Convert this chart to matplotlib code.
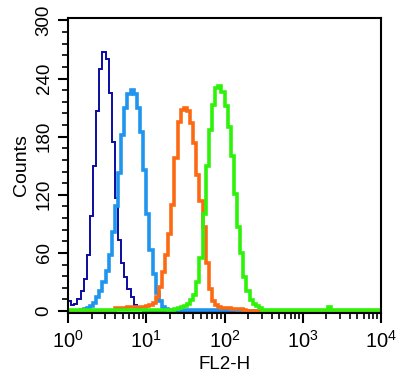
import numpy as np
import matplotlib
matplotlib.use("Agg")
import matplotlib.pyplot as plt
from matplotlib.ticker import AutoMinorLocator, LogLocator, NullFormatter

plt.rcParams['font.family'] = ['Liberation Sans', 'DejaVu Sans']
plt.rcParams['mathtext.fontset'] = 'custom'
plt.rcParams['mathtext.rm'] = 'Liberation Sans'
plt.rcParams['mathtext.it'] = 'Liberation Sans'

# 100 log-spaced channels over 4 decades, counts
n_bins = 100
edges = np.logspace(0, 4, n_bins + 1)

# (first bin, counts) for each histogram
isotype_start = 0
isotype = [10, 6, 7, 12, 21, 33, 58, 98, 150, 207, 250, 267, 260, 225, 175,
           117, 73, 50, 35, 23, 15, 6, 2, 1]

blue_start = 4
blue = [1, 2, 3, 5, 8, 14, 21, 30, 41, 58, 82, 108, 143, 182, 210, 224, 228,
        224, 210, 185, 146, 100, 63, 38, 19, 10, 4, 2,
        1, 1, 1, 1, 1, 1, 1, 1, 1, 1, 1, 1, 1, 1, 1, 1, 1, 1, 1, 1, 1, 1]

orange_start = 15
orange = [3, 3, 3, 3, 4, 4, 4, 4, 4, 4, 5, 6, 8, 14, 25, 40, 58, 80, 109, 158,
          195, 208, 210, 206, 194, 173, 140, 114, 87, 50, 23, 10, 6, 4, 3,
          3, 3, 2, 2, 2, 2, 1]

green_start = 34
green = [2, 3, 4, 5, 7, 11, 17, 30, 55, 100, 150, 187, 213, 230, 232, 226, 212,
         190, 160, 121, 87, 60, 35, 21, 11, 7, 5, 3]
green_base = 1
green_bump = {83: 4}


def fill(start, vals, base=0):
    counts = np.full(n_bins, base, dtype=float)
    counts[start:start + len(vals)] = vals
    return counts


c_iso = fill(isotype_start, isotype)
c_blue = fill(blue_start, blue)
c_orange = fill(orange_start, orange)
c_green = fill(green_start, green, green_base)
for k, v in green_bump.items():
    c_green[k] = v

fig = plt.figure(figsize=(4, 3.83), dpi=100)
ax = fig.add_axes([0.17, 0.1828, 0.7825, 0.7702])

ax.stairs(c_iso, edges, color='#0b0ba0', lw=1.4)
ax.stairs(c_blue, edges, color='#1f95ee', lw=2.6)
ax.stairs(c_orange, edges, color='#fb6a12', lw=2.6)
ax.stairs(c_green, edges, color='#2ef20a', lw=2.6)

ax.set_xscale('log')
ax.set_xlim(1, 1e4)
ax.set_ylim(-2, 302.5)
ax.set_yticks([0, 60, 120, 180, 240, 300])
ax.yaxis.set_minor_locator(AutoMinorLocator(5))
ax.xaxis.set_major_locator(LogLocator(base=10, numticks=10))
ax.xaxis.set_minor_locator(LogLocator(base=10, subs=np.arange(2, 10), numticks=10))
ax.xaxis.set_minor_formatter(NullFormatter())

for lbl in ax.get_yticklabels():
    lbl.set_rotation(90)
    lbl.set_va('center')

ax.tick_params(axis='both', which='major', direction='out', length=7, width=1.5,
               top=False, right=False)
ax.tick_params(axis='both', which='minor', direction='out', length=4, width=1.2,
               top=False, right=False)
ax.tick_params(axis='y', labelsize=13.5, pad=4)
ax.tick_params(axis='x', labelsize=14.5, pad=5)

for s in ax.spines.values():
    s.set_linewidth(1.5)

ax.set_xlabel('FL2-H', fontsize=13.5, labelpad=3)
ax.set_ylabel('Counts', fontsize=14, labelpad=4)

fig.savefig('out.png', dpi=100)
